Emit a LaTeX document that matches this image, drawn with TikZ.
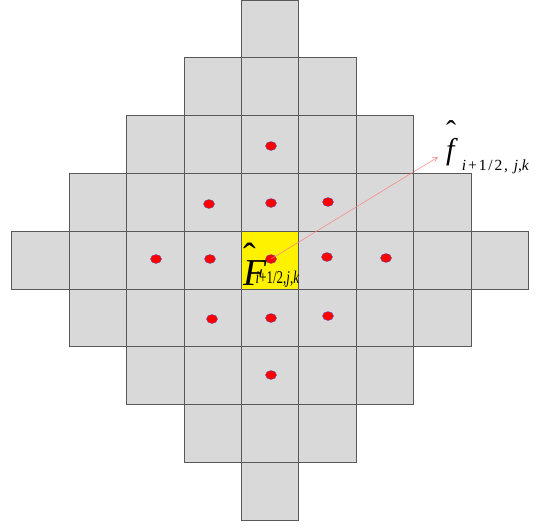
\documentclass[tikz,border=0pt]{standalone}
\usepackage{fontspec}
\setmainfont{Liberation Serif}
\usepackage{graphicx}
\usetikzlibrary{arrows.meta, shapes.geometric}

\begin{document}
\begin{tikzpicture}[x=1pt, y=-1pt,
  cell/.style  ={rectangle, draw=black!65, line width=0.8pt, fill=gray!30,
                 minimum width=57.4pt, minimum height=57.8pt, inner sep=0pt},
  sample/.style={ellipse, fill=red, draw=blue!40!gray, line width=0.3pt,
                 minimum width=11pt, minimum height=9pt, inner sep=0pt},
  link/.style  ={-{Straight Barb[length=5pt,width=5pt]}, line width=0.5pt, red!50},
  lbl/.style   ={inner sep=0pt, anchor=base west},
]
\useasboundingbox (0,0) rectangle (539,528);

% Diamond stencil of cells
\foreach \r in {-4,...,4}{
  \pgfmathtruncatemacro\w{4-abs(\r)}
  \foreach \c in {-\w,...,\w}{
    \node[cell] (c\c r\r) at ({270+57.4*\c},{260+57.8*\r}) {};
  }
}
\node[cell, fill=yellow] (ctr) at (270,260) {};

% Sample points
\foreach \p [count=\n] in {(271,146),
    (209,204),(271,203),(328,202),
    (156,259),(210,259),(327,257),(386,258),
    (212,319),(271,318),(328,316),
    (271,375)}
  \node[sample] (s\n) at \p {};
\node[sample] (s0) at (271,259) {};

% Labels
\node[lbl] (Flab) at (243,285)
  {{\fontsize{38}{38}\selectfont\rlap{\raisebox{0.42em}{ˆ}}\textit{F}}\kern-11pt\raisebox{2pt}{\fontsize{18}{18}\selectfont\scalebox{0.72}[1]{\textit{i}+1/2,\textit{j},\textit{k}}}};
\node[lbl] (flab) at (446,159)
  {{\fontsize{30}{30}\selectfont\rlap{\raisebox{0.58em}{ˆ}}\textit{f}}\kern4pt\raisebox{-11pt}{\fontsize{15.5}{15.5}\selectfont\addfontfeatures{LetterSpace=12}\textit{i}+1/2, \textit{j},\textit{k}}};
\coordinate (ftip) at (438,157);

\draw[link] (s0.center) -- (ftip);
\end{tikzpicture}
\end{document}
